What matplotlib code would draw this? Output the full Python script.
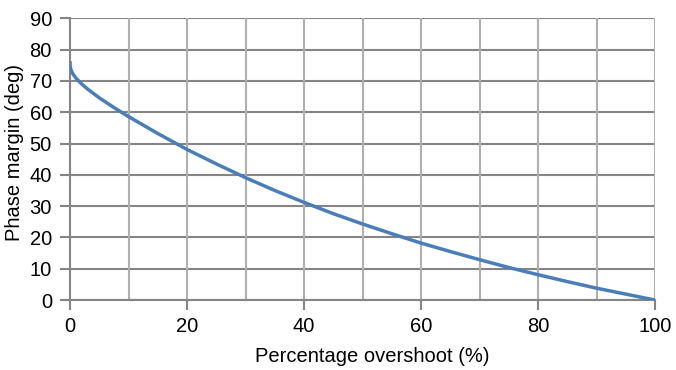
import matplotlib
matplotlib.use("Agg")
import matplotlib.pyplot as plt

overshoot = [0, 0.01, 0.1, 0.5, 1, 2, 3, 5, 7.5, 10, 15, 20, 25, 30, 35, 40,
             45, 50, 55, 60, 65, 70, 75, 80, 85, 90, 95, 100]
phase_margin = [76.3, 74.9, 73.8, 72.2, 70.9, 69.0, 67.4, 64.6, 61.5, 58.6, 53.2,
                48.1, 43.5, 39.1, 35.0, 31.2, 27.6, 24.3, 21.2, 18.2, 15.5, 12.9,
                10.4, 8.1, 5.9, 3.8, 1.9, 0.0]
x_ticks = [0, 20, 40, 60, 80, 100]
y_ticks = [0, 10, 20, 30, 40, 50, 60, 70, 80, 90]

plt.rcParams['font.family'] = ['Liberation Sans', 'DejaVu Sans']

fig = plt.figure(figsize=(6.76, 3.70), dpi=100)
ax = fig.add_axes([0.1036, 0.189, 0.8654, 0.7615])

ax.set_xlim(0, 100)
ax.set_ylim(0, 90)
ax.set_xticks(x_ticks)
ax.set_yticks(y_ticks)

hcol = '#858585'
vcol = '#b0b0b0'
for y in y_ticks:
    ax.axhline(y, color=hcol, lw=1.5, zorder=1)
for x in range(10, 101, 10):
    ax.axvline(x, color=vcol, lw=1.5, zorder=1)

for s in ['top', 'right']:
    ax.spines[s].set_visible(False)
ax.spines['left'].set_color(hcol)
ax.spines['left'].set_linewidth(1.5)
ax.spines['bottom'].set_color(hcol)
ax.spines['bottom'].set_linewidth(1.5)

ax.tick_params(axis='x', length=7, width=1.5, color=hcol, labelsize=14.5, pad=5)
ax.tick_params(axis='y', length=7, width=1.5, color=hcol, labelsize=14.5, pad=6)

ax.plot(overshoot, phase_margin, color='#4a7ebb', lw=2.5, zorder=3, solid_capstyle='butt')

ax.set_xlabel('Percentage overshoot (%)', fontsize=14.5)
ax.xaxis.set_label_coords(0.517, -0.168)
ax.set_ylabel('Phase margin (deg)', fontsize=14.5)
ax.yaxis.set_label_coords(-0.079, 0.525)

fig.savefig('out.png', dpi=100)
